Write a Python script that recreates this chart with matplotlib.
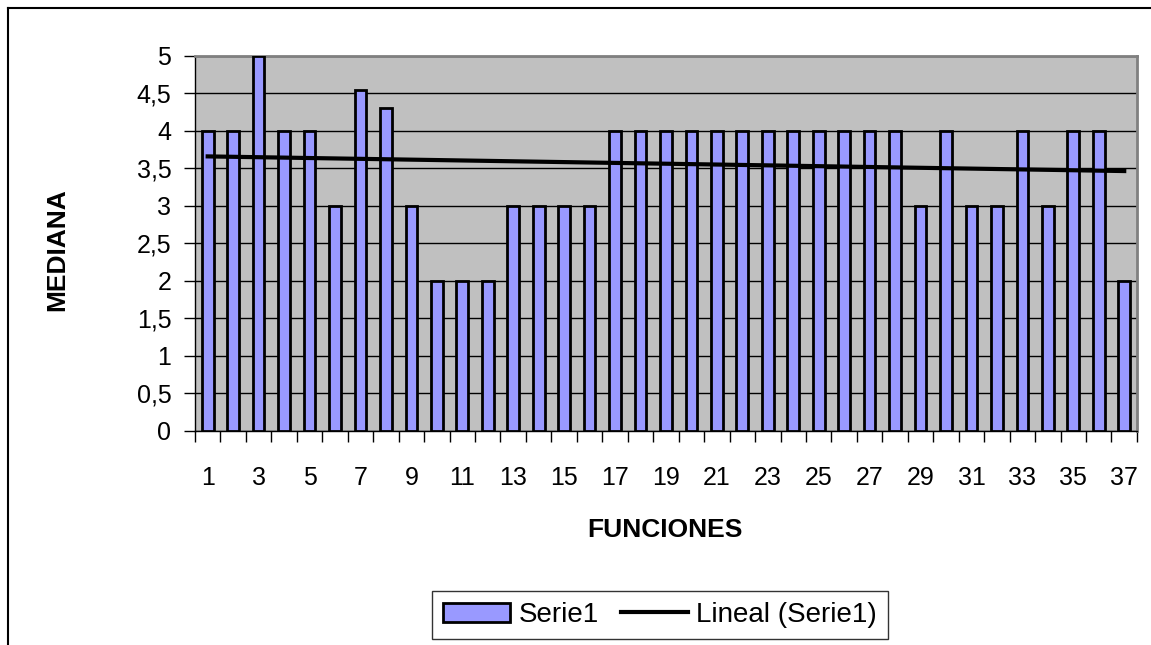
import numpy as np
import matplotlib
matplotlib.use('Agg')
import matplotlib.pyplot as plt
from matplotlib.lines import Line2D
from matplotlib.ticker import FuncFormatter

plt.rcParams['font.family'] = ['Liberation Sans', 'DejaVu Sans']

# Mediana por función
funciones = list(range(1, 38))
mediana = [4, 4, 5, 4, 4, 3, 4.55, 4.3, 3, 2, 2, 2, 3, 3, 3, 3,
           4, 4, 4, 4, 4, 4, 4, 4, 4, 4, 4, 4,
           3, 4, 3, 3, 4, 3, 4, 4, 2]
etiquetas_x = [str(f) if f % 2 == 1 else '' for f in funciones]

fig = plt.figure(figsize=(11.51, 6.45), dpi=100)
ax = fig.add_axes([0.1694, 0.3318, 0.8184, 0.5814])

x = np.array(funciones)
y = np.array(mediana)

ax.set_facecolor('#C0C0C0')
barras = ax.bar(x, y, width=0.46, color='#9999FF', edgecolor='black',
                linewidth=2, zorder=3, label='Serie1')

# linea de tendencia lineal
m, b = np.polyfit(x, y, 1)
tendencia, = ax.plot(x, m * x + b, color='black', linewidth=3, zorder=4,
                     label='Lineal (Serie1)')

ax.set_xlim(0.5, 37.5)
ax.set_ylim(0, 5)
ax.set_yticks(np.arange(0, 5.01, 0.5))
ax.yaxis.set_major_formatter(FuncFormatter(
    lambda v, p: ('%g' % v).replace('.', ',')))
ax.grid(axis='y', color='black', linewidth=1, zorder=1)
ax.set_axisbelow(True)

# marcas entre categorias, etiquetas en las impares
ax.set_xticks(np.arange(0.5, 38, 1))
ax.set_xticklabels([])
ax.set_xticks(x, minor=True)
ax.set_xticklabels(etiquetas_x, minor=True)
ax.tick_params(axis='x', which='major', direction='out', length=8, width=1)
ax.tick_params(axis='x', which='minor', length=0, pad=25, labelsize=18)
ax.tick_params(axis='y', direction='out', length=8, width=1, pad=9, labelsize=18)

for s in ['top', 'right']:
    ax.spines[s].set_color('#808080')
    ax.spines[s].set_linewidth(2)
for s in ['left', 'bottom']:
    ax.spines[s].set_color('black')
    ax.spines[s].set_linewidth(1)

fig.text(665 / 1151, 1 - 530 / 645, 'FUNCIONES', ha='center', va='center',
         fontsize=19, fontweight='bold')
fig.text(57 / 1151, 1 - 250 / 645, 'MEDIANA', ha='center', va='center',
         rotation=90, fontsize=19, fontweight='bold')

leg = ax.legend([barras, tendencia], ['Serie1', 'Lineal (Serie1)'],
                loc='center', bbox_to_anchor=(660 / 1151, 1 - 615 / 645),
                bbox_transform=fig.transFigure, ncol=2, frameon=True,
                fancybox=False, edgecolor='black', fontsize=20,
                handlelength=2.4, handleheight=0.7, columnspacing=0.8,
                handletextpad=0.3, borderpad=0.4)
leg.get_frame().set_linewidth(1)

# marco exterior del grafico
fig.add_artist(Line2D([8 / 1151, 8 / 1151], [0, 1 - 8 / 645], color='black',
                      linewidth=1.5, transform=fig.transFigure))
fig.add_artist(Line2D([8 / 1151, 1], [1 - 8 / 645, 1 - 8 / 645], color='black',
                      linewidth=1.5, transform=fig.transFigure))

fig.savefig('out.png', dpi=100, facecolor='white')
